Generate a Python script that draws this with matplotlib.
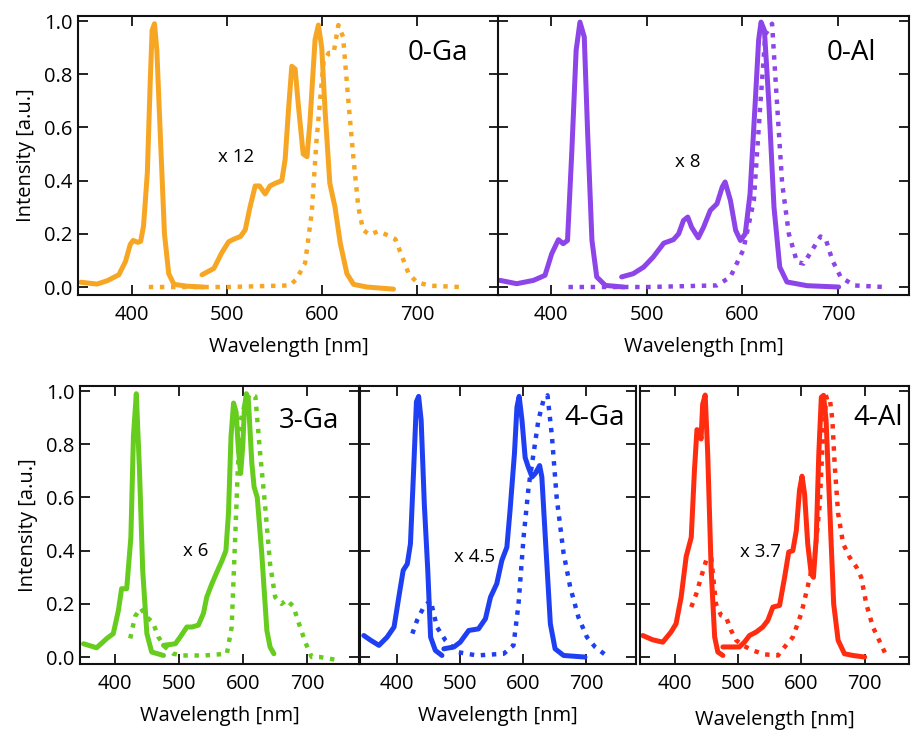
import numpy as np
import matplotlib
matplotlib.use("Agg")
import matplotlib.pyplot as plt

plt.rcParams['font.family'] = ['Open Sans', 'DejaVu Sans']

# ---- 0-Ga ----
ga0_exc_wl = [346, 363, 374, 386, 393, 398, 401, 406, 409, 412, 416, 419, 421, 423.5, 426, 430, 434, 438.5, 444, 458, 475]
ga0_exc_i = [0.018, 0.011, 0.024, 0.046, 0.096, 0.16, 0.175, 0.168, 0.172, 0.23, 0.43, 0.77, 0.965, 0.99, 0.89, 0.54, 0.20, 0.05, 0.01, 0.003, 0.0]
ga0_em_wl = [473.5, 486, 494.5, 501.5, 507, 514, 519, 524, 529.5, 534, 540, 545, 550.5, 557.5, 561, 564.5, 568, 571.5, 575, 580, 584, 587, 592.5, 596, 599.5, 603, 608, 613.5, 619, 626, 633, 647, 675]
ga0_em_i = [0.046, 0.07, 0.13, 0.17, 0.18, 0.19, 0.215, 0.30, 0.38, 0.38, 0.35, 0.38, 0.39, 0.40, 0.48, 0.665, 0.83, 0.82, 0.68, 0.50, 0.49, 0.615, 0.93, 0.985, 0.90, 0.665, 0.39, 0.30, 0.165, 0.05, 0.01, 0.0, -0.008]
ga0_dot_wl = [417.5, 500, 566, 573, 582, 589, 594, 599.5, 601.5, 607, 612, 617, 622, 627.5, 633, 638, 643, 650, 659, 668, 677, 684, 691, 699.5, 713.5, 745]
ga0_dot_i = [0.0, 0.0, 0.006, 0.03, 0.09, 0.28, 0.55, 0.77, 0.85, 0.88, 0.88, 0.985, 0.94, 0.70, 0.48, 0.30, 0.215, 0.196, 0.21, 0.196, 0.18, 0.115, 0.05, 0.018, 0.005, 0.0]

# ---- 0-Al ----
al0_exc_wl = [347, 364.5, 382, 394, 401, 408, 413, 417.5, 422, 426.5, 430.5, 435, 438.5, 443, 448, 457, 476]
al0_exc_i = [0.025, 0.0125, 0.025, 0.044, 0.125, 0.178, 0.163, 0.175, 0.51, 0.89, 0.996, 0.94, 0.58, 0.175, 0.038, 0.006, 0.0]
al0_em_wl = [474, 486, 497, 507, 518, 528, 533.5, 538.5, 543, 547, 554, 559.5, 566.5, 573.5, 579, 582, 587.5, 593, 598, 603, 608, 613.5, 617, 619.5, 623, 627.5, 633, 639, 646.5, 667.5, 700.5]
al0_em_i = [0.038, 0.05, 0.075, 0.113, 0.165, 0.178, 0.20, 0.25, 0.263, 0.225, 0.185, 0.225, 0.288, 0.313, 0.376, 0.395, 0.326, 0.213, 0.175, 0.20, 0.35, 0.70, 0.93, 0.996, 0.965, 0.70, 0.30, 0.075, 0.019, 0.005, 0.0]
al0_dot_wl = [418.5, 500, 573.5, 587.5, 601, 612, 619, 624, 631, 636, 641.5, 648.5, 657, 664, 673, 681.5, 687, 694, 702.5, 716.5, 748]
al0_dot_i = [0.0, 0.0, 0.006, 0.038, 0.14, 0.326, 0.70, 0.95, 0.99, 0.70, 0.39, 0.20, 0.094, 0.088, 0.14, 0.19, 0.18, 0.10, 0.038, 0.006, 0.0]

# ---- 3-Ga ----
ga3_exc_wl = [350.5, 371, 387, 397, 405, 410, 418, 424.5, 428.5, 433, 438, 443, 449.5, 457, 475.5]
ga3_exc_i = [0.05, 0.035, 0.07, 0.088, 0.175, 0.257, 0.257, 0.45, 0.83, 0.99, 0.70, 0.326, 0.088, 0.019, 0.006]
ga3_em_wl = [475.5, 494, 501.5, 512, 520, 530, 538, 543, 551, 559, 567, 573, 577, 581, 585, 589, 592.5, 596, 599.5, 602, 605, 608, 613.5, 617, 622, 629, 637, 642, 648]
ga3_em_i = [0.044, 0.05, 0.075, 0.113, 0.113, 0.12, 0.165, 0.225, 0.275, 0.32, 0.363, 0.40, 0.54, 0.83, 0.955, 0.92, 0.78, 0.69, 0.80, 0.94, 0.99, 0.97, 0.73, 0.64, 0.60, 0.39, 0.10, 0.038, 0.0125]
ga3_dot_wl = [423.5, 431, 440, 449.5, 459, 467.5, 478, 491, 504, 540, 574.5, 582, 587.5, 591.5, 596, 603, 611, 619, 626.5, 634, 642, 650, 660, 668, 678.5, 686.5, 697, 707, 720, 744]
ga3_dot_i = [0.07, 0.153, 0.184, 0.15, 0.13, 0.075, 0.038, 0.0125, 0.006, 0.006, 0.0125, 0.113, 0.45, 0.70, 0.89, 0.955, 0.99, 0.98, 0.765, 0.576, 0.35, 0.225, 0.20, 0.215, 0.19, 0.13, 0.056, 0.0, 0.0, -0.01]

# ---- 4-Ga ----
ga4_exc_wl = [347, 358, 371, 384, 395, 402.5, 409.5, 416, 421, 426, 430.5, 434, 438, 443, 448.5, 453, 460.5, 471]
ga4_exc_i = [0.081, 0.063, 0.044, 0.075, 0.113, 0.225, 0.326, 0.35, 0.426, 0.70, 0.96, 0.98, 0.89, 0.576, 0.326, 0.075, 0.025, 0.006]
ga4_em_wl = [474, 490, 500, 513.5, 529, 540, 548, 558, 566, 574, 579, 586, 590, 593.5, 598, 603, 608, 614, 619, 626, 629.5, 635, 643, 650.5, 664, 698]
ga4_em_i = [0.031, 0.038, 0.056, 0.10, 0.106, 0.144, 0.225, 0.276, 0.363, 0.413, 0.55, 0.764, 0.94, 0.98, 0.89, 0.75, 0.714, 0.677, 0.69, 0.72, 0.677, 0.45, 0.125, 0.031, 0.006, 0.0]
ga4_dot_wl = [424, 431.5, 442, 453, 463, 476.5, 495, 526.5, 569, 584.5, 592.5, 600.5, 608.5, 616, 624, 632, 638.5, 645.5, 653, 664, 674.5, 687.5, 701, 714, 735]
ga4_dot_i = [0.088, 0.138, 0.188, 0.213, 0.113, 0.063, 0.019, 0.006, 0.0125, 0.044, 0.20, 0.45, 0.64, 0.76, 0.89, 0.965, 0.984, 0.83, 0.60, 0.39, 0.263, 0.15, 0.075, 0.038, 0.0]

# ---- 4-Al ----
al4_exc_wl = [349.5, 365, 381, 394, 402, 410, 418, 426, 431, 435, 439, 441.5, 444, 448, 452, 457.5, 463, 468, 476]
al4_exc_i = [0.081, 0.065, 0.056, 0.094, 0.125, 0.225, 0.378, 0.45, 0.70, 0.855, 0.85, 0.82, 0.95, 0.985, 0.765, 0.326, 0.075, 0.019, 0.006]
al4_em_wl = [476, 502, 510, 518, 528.5, 539, 547, 555, 565.5, 573.5, 580, 586.5, 592, 597, 601, 605, 610, 615.5, 619, 623.5, 627.5, 631.5, 635, 639, 644.5, 651, 658, 668, 681.5, 700]
al4_em_i = [0.038, 0.038, 0.056, 0.081, 0.094, 0.113, 0.138, 0.188, 0.194, 0.30, 0.395, 0.40, 0.476, 0.627, 0.68, 0.614, 0.426, 0.313, 0.30, 0.45, 0.764, 0.977, 0.984, 0.89, 0.576, 0.20, 0.063, 0.0125, 0.006, 0.0]
al4_dot_wl = [426, 434, 441.5, 449.5, 457.5, 465, 473, 481, 489, 497, 507.5, 523, 542, 563, 573.5, 586.5, 600, 610, 621, 629, 634, 639.5, 644.5, 649, 652.5, 658, 666, 676, 687, 694.5, 702.5, 713, 734]
al4_dot_i = [0.188, 0.238, 0.30, 0.363, 0.376, 0.20, 0.157, 0.15, 0.10, 0.063, 0.044, 0.025, 0.01, 0.006, 0.038, 0.075, 0.165, 0.265, 0.376, 0.576, 0.83, 0.977, 0.98, 0.89, 0.727, 0.54, 0.426, 0.376, 0.338, 0.30, 0.20, 0.113, 0.006]

panels = [
    # name, colour, exc, em, dotted, factor label, label pos, factor pos, xlim, axes rect
    ("0-Ga", "#F7A623", (ga0_exc_wl, ga0_exc_i), (ga0_em_wl, ga0_em_i), (ga0_dot_wl, ga0_dot_i),
     "x 12", (722, 0.88), (509, 0.49), (343, 786), [0.0856, 0.5981, 0.4621, 0.3801]),
    ("0-Al", "#8D44E8", (al0_exc_wl, al0_exc_i), (al0_em_wl, al0_em_i), (al0_dot_wl, al0_dot_i),
     "x 8", (714, 0.88), (543, 0.47), (345, 774), [0.5467, 0.5981, 0.4512, 0.3801]),
    ("3-Ga", "#66CC1E", (ga3_exc_wl, ga3_exc_i), (ga3_em_wl, ga3_em_i), (ga3_dot_wl, ga3_dot_i),
     "x 6", (703, 0.887), (526, 0.40), (345, 781), [0.0878, 0.0954, 0.3063, 0.3787]),
    ("4-Ga", "#1F40F2", (ga4_exc_wl, ga4_exc_i), (ga4_em_wl, ga4_em_i), (ga4_dot_wl, ga4_dot_i),
     "x 4.5", (713, 0.90), (522, 0.376), (341, 779), [0.3952, 0.0954, 0.3030, 0.3787]),
    ("4-Al", "#FF2C10", (al4_exc_wl, al4_exc_i), (al4_em_wl, al4_em_i), (al4_dot_wl, al4_dot_i),
     "x 3.7", (721, 0.90), (536, 0.395), (345, 770), [0.7025, 0.0954, 0.2953, 0.3787]),
]

fig = plt.figure(figsize=(9.11, 7.34), dpi=100)

for k, (name, col, exc, em, dot, fac, lpos, fpos, xl, rect) in enumerate(panels):
    ax = fig.add_axes(rect)
    ax.plot(exc[0], exc[1], color=col, lw=3.6, solid_capstyle='round', solid_joinstyle='round')
    ax.plot(em[0], em[1], color=col, lw=3.6, solid_capstyle='round', solid_joinstyle='round')
    ax.plot(dot[0], dot[1], color=col, lw=3.2, linestyle=(0, (1, 1.5)))
    ax.text(lpos[0], lpos[1], name, fontsize=20, ha='center', va='center')
    ax.text(fpos[0], fpos[1], fac, fontsize=13.5, ha='center', va='center')
    ax.set_xlim(xl)
    if k < 2:
        ax.set_ylim(-0.030, 1.019)
    else:
        ax.set_ylim(-0.026, 1.019)
    ax.set_xticks([400, 500, 600, 700])
    ax.set_yticks([0.0, 0.2, 0.4, 0.6, 0.8, 1.0])
    ax.tick_params(direction='in', top=True, right=True, length=7, width=1.3,
                   labelsize=14.5, color='#111111')
    ax.tick_params(axis='x', pad=7)
    ax.tick_params(axis='y', pad=4)
    for s in ax.spines.values():
        s.set_linewidth(1.5)
        s.set_color('#111111')
    ax.set_xlabel("Wavelength [nm]", fontsize=14.5, labelpad=12 if k == 4 else 9)
    if k in (0, 2):
        ax.set_yticklabels(["0.0", "0.2", "0.4", "0.6", "0.8", "1.0"])
        ax.set_ylabel("Intensity [a.u.]", fontsize=14.5, labelpad=6)
    else:
        ax.set_yticklabels([])

fig.savefig("out.png", dpi=100)
